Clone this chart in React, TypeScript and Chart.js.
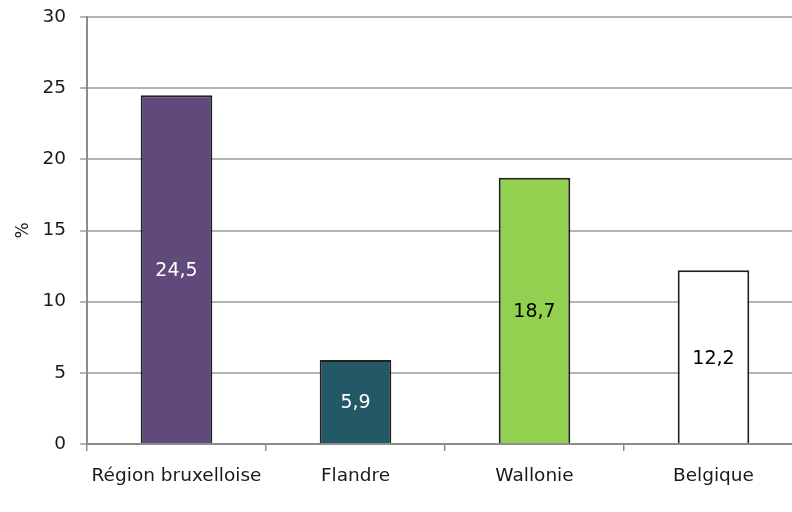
import React, { useEffect, useRef } from "react";
import { Chart, registerables } from "chart.js";

Chart.register(...registerables);

const categories = ["Région bruxelloise", "Flandre", "Wallonie", "Belgique"];
const values = [24.5, 5.9, 18.7, 12.2];
const barColors = ["#5F4A7B", "#235867", "#92D050", "#FFFFFF"];
const labelColors = ["#FFFFFF", "#FFFFFF", "#000000", "#000000"];
const yTicks = [0, 5, 10, 15, 20, 25, 30];

const FONT = "'DejaVu Sans', sans-serif";

const valueLabels = {
  id: "valueLabels",
  afterDatasetsDraw(chart: any) {
    const ctx = chart.ctx;
    const meta = chart.getDatasetMeta(0);
    ctx.save();
    ctx.font = `19px ${FONT}`;
    ctx.textAlign = "center";
    ctx.textBaseline = "middle";
    meta.data.forEach((bar: any, i: number) => {
      const { x, y, base } = bar.getProps(["x", "y", "base"], true);
      ctx.fillStyle = labelColors[i];
      ctx.fillText(values[i].toFixed(1).replace(".", ","), x, (y + base) / 2 + 2);
    });
    ctx.restore();
  },
};

export default function App() {
  const ref = useRef<HTMLCanvasElement>(null);
  useEffect(() => {
    const chart = new Chart(ref.current!, {
      type: "bar",
      data: {
        labels: categories,
        datasets: [
          {
            data: values,
            backgroundColor: barColors,
            borderColor: "#202020",
            borderWidth: 2,
            barPercentage: 0.8,
            categoryPercentage: 0.5,
          },
        ],
      },
      options: {
        animation: false,
        responsive: true,
        maintainAspectRatio: false,
        layout: { padding: { top: 17, right: 0, left: 13, bottom: 0 } },
        plugins: { legend: { display: false }, tooltip: { enabled: false } },
        scales: {
          x: {
            grid: {
              offset: true,
              drawOnChartArea: false,
              drawTicks: true,
              tickLength: 7,
              color: "#8C8C8C",
              lineWidth: 1.5,
            },
            border: { color: "#8C8C8C", width: 2 },
            ticks: { color: "#1a1a1a", font: { family: FONT, size: 18.5 }, padding: 14 },
            afterFit: (s: any) => {
              s.height = 68;
              s.paddingLeft = 0;
              s.paddingRight = 0;
            },
          },
          y: {
            min: 0,
            max: 30,
            afterBuildTicks: (s: any) => {
              s.ticks = yTicks.map((v) => ({ value: v }));
            },
            grid: { color: "#B4B4B4", lineWidth: 2, tickLength: 7 },
            border: { color: "#8C8C8C", width: 2 },
            ticks: { color: "#1a1a1a", font: { family: FONT, size: 18.5 }, padding: 14 },
            title: {
              display: true,
              text: "%",
              color: "#1a1a1a",
              font: { family: FONT, size: 17 },
              padding: { top: 0, bottom: 0 },
            },
            afterFit: (s: any) => {
              s.width = 74;
              s.paddingTop = 0;
              s.paddingBottom = 0;
            },
          },
        },
      },
      plugins: [valueLabels],
    });
    return () => chart.destroy();
  }, []);
  return (
    <div style={{ position: "absolute", left: 0, top: 0, width: 792, height: 512, overflow: "hidden", background: "#fff" }}>
      <div style={{ width: 803, height: 512, position: "relative" }}>
        <canvas ref={ref} />
      </div>
    </div>
  );
}
